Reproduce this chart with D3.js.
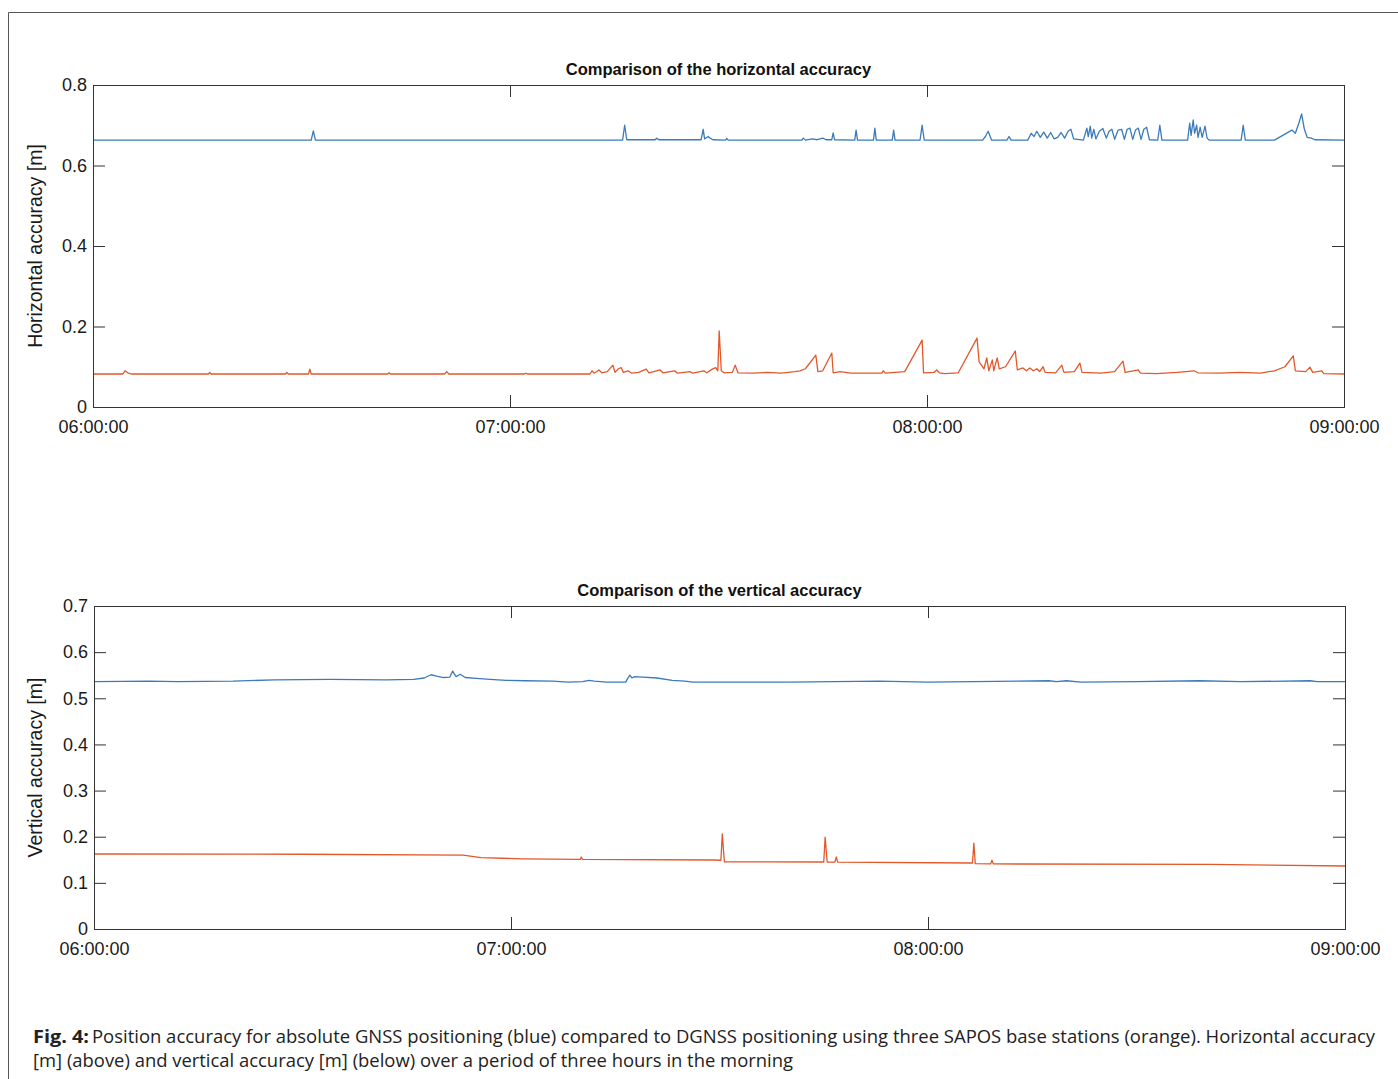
<!DOCTYPE html>
<html><head><meta charset="utf-8">
<script src="https://cdn.jsdelivr.net/npm/d3@7"></script>
<style>
html,body{margin:0;padding:0;background:#fff;}
svg{display:block;}
</style></head>
<body>
<svg id="c" width="1398" height="1079"></svg>
<script>
// ---------- data (time in minutes after 06:00, value in metres) ----------
const timeTickValues = [0, 60, 120, 180];
const timeTickLabels = ["06:00:00", "07:00:00", "08:00:00", "09:00:00"];
const hTickValues = [0, 0.2, 0.4, 0.6, 0.8];
const hTickLabels = ["0", "0.2", "0.4", "0.6", "0.8"];
const vTickValues = [0, 0.1, 0.2, 0.3, 0.4, 0.5, 0.6, 0.7];
const vTickLabels = ["0", "0.1", "0.2", "0.3", "0.4", "0.5", "0.6", "0.7"];

const titles = ["Comparison of the horizontal accuracy", "Comparison of the vertical accuracy"];
const yLabels = ["Horizontal accuracy [m]", "Vertical accuracy [m]"];

// Horizontal accuracy, absolute GNSS (blue)
const horizGnss = [
 [0,0.663],[31.4,0.663],[31.7,0.686],[32.0,0.663],[76.2,0.663],[76.5,0.700],[76.8,0.664],
 [80.9,0.664],[81.1,0.668],[81.4,0.664],[87.5,0.664],[87.8,0.690],[88.0,0.666],[88.5,0.672],[88.8,0.668],[89.2,0.664],
 [91.0,0.663],[91.2,0.667],[91.4,0.663],[102.0,0.663],[102.2,0.668],[102.5,0.663],[103.5,0.666],[104.2,0.664],
 [105.0,0.668],[105.5,0.664],[106.3,0.664],[106.5,0.681],[106.7,0.664],[109.6,0.663],[109.8,0.688],[110.0,0.663],
 [112.3,0.663],[112.5,0.693],[112.7,0.663],[115.0,0.663],[115.2,0.688],[115.4,0.663],[119.0,0.663],[119.3,0.700],[119.6,0.663],
 [128.0,0.663],[128.4,0.672],[128.8,0.685],[129.3,0.663],[131.5,0.663],[131.8,0.672],[132.1,0.663],
 [134.5,0.663],[135.0,0.680],[135.4,0.672],[135.8,0.685],[136.3,0.670],[136.8,0.683],[137.3,0.668],[137.8,0.682],
 [138.3,0.666],[138.8,0.670],[139.3,0.682],[139.8,0.668],[140.3,0.685],[140.7,0.690],[141.1,0.666],
 [142.5,0.663],[143.0,0.693],[143.2,0.672],[143.5,0.698],[143.7,0.668],[144.0,0.690],[144.3,0.666],[144.8,0.685],
 [145.3,0.692],[145.8,0.668],[146.2,0.685],[146.6,0.690],[147.0,0.665],[147.5,0.688],[148.0,0.690],[148.4,0.665],
 [148.8,0.690],[149.2,0.693],[149.6,0.665],[150.0,0.688],[150.4,0.693],[150.8,0.665],[151.2,0.690],[151.6,0.695],
 [152.0,0.664],[153.2,0.663],[153.5,0.700],[153.8,0.663],
 [157.5,0.663],[157.8,0.705],[158.0,0.675],[158.3,0.713],[158.5,0.680],[158.8,0.700],[159.0,0.670],[159.3,0.695],
 [159.6,0.670],[160.0,0.698],[160.3,0.668],[160.6,0.663],[165.2,0.663],[165.5,0.700],[165.8,0.663],
 [170.0,0.663],[172.5,0.688],[173.0,0.680],[173.5,0.705],[173.9,0.728],[174.3,0.690],[174.7,0.670],[175.3,0.668],
 [175.8,0.664],[180,0.663]
];
// Horizontal accuracy, DGNSS with SAPOS (orange)
const horizDgnss = [
 [0,0.082],[4.3,0.082],[4.6,0.090],[5.0,0.085],[5.5,0.082],[16.6,0.082],[16.8,0.086],[17.0,0.082],
 [27.7,0.082],[27.9,0.086],[28.1,0.082],[31.0,0.082],[31.2,0.094],[31.4,0.082],[42.4,0.082],[42.6,0.085],[42.8,0.082],
 [50.6,0.082],[50.9,0.088],[51.2,0.082],[62.1,0.082],[62.3,0.084],[62.5,0.082],
 [71.5,0.082],[71.8,0.090],[72.1,0.084],[72.8,0.092],[73.2,0.085],[74.0,0.088],[74.8,0.104],[75.1,0.086],[75.6,0.095],
 [76.0,0.098],[76.3,0.086],[77.0,0.090],[77.5,0.084],[78.5,0.086],[79.6,0.094],[80.0,0.085],[81.6,0.092],[82.0,0.085],
 [83.7,0.090],[84.1,0.084],[85.9,0.088],[86.3,0.084],[87.9,0.090],[88.3,0.085],[89.1,0.094],[89.6,0.098],[89.9,0.090],
 [90.1,0.189],[90.4,0.090],[90.8,0.085],[92.0,0.086],[92.4,0.104],[92.8,0.085],[95,0.084],[97,0.086],[99,0.084],
 [101,0.088],[101.7,0.090],[102.5,0.095],[104.0,0.129],[104.3,0.088],[105,0.090],[106.3,0.134],[106.5,0.085],
 [107.5,0.088],[109,0.084],[113.5,0.084],[113.7,0.090],[114,0.084],[116.8,0.088],[119.3,0.166],[119.5,0.085],
 [121.0,0.086],[121.4,0.092],[121.8,0.085],[122.5,0.083],[124.5,0.085],[127.2,0.171],[127.5,0.112],[128.2,0.095],
 [128.6,0.122],[128.9,0.090],[129.4,0.117],[129.6,0.090],[130.1,0.122],[130.4,0.095],[131.3,0.100],[132.7,0.139],
 [133.0,0.092],[133.8,0.097],[134.3,0.090],[134.8,0.097],[135.3,0.090],[135.8,0.095],[136.2,0.088],[136.7,0.100],
 [137.0,0.086],[138.5,0.085],[139.4,0.104],[139.7,0.086],[141.2,0.088],[142.0,0.109],[142.3,0.086],[145,0.084],
 [147,0.088],[148.2,0.114],[148.5,0.086],[150.4,0.092],[150.7,0.084],[153,0.083],[156,0.086],[158.4,0.090],
 [159,0.085],[162,0.084],[165,0.086],[168,0.084],[170,0.090],[171.5,0.100],[172.7,0.127],[173.0,0.090],
 [174.5,0.088],[175.1,0.099],[175.5,0.086],[176.8,0.090],[177.1,0.083],[180,0.082]
];
// Vertical accuracy, absolute GNSS (blue)
const vertGnss = [
 [0,0.536],[8,0.537],[12,0.536],[20,0.537],[26,0.540],[34,0.541],[42,0.540],[46,0.541],[47.5,0.544],[48.5,0.551],
 [49.3,0.548],[50.3,0.545],[51.2,0.546],[51.6,0.559],[52.1,0.547],[52.7,0.552],[53.4,0.545],[55,0.543],[57,0.541],
 [59.3,0.539],[62,0.538],[66,0.537],[68.2,0.535],[70.3,0.536],[71.2,0.539],[72,0.537],[73.7,0.535],[76.5,0.535],
 [76.8,0.543],[77.1,0.550],[77.4,0.544],[77.8,0.547],[79,0.546],[81,0.544],[83.2,0.539],[85,0.537],[86.2,0.535],
 [100,0.535],[113,0.537],[120,0.535],[137.4,0.538],[138.5,0.536],[139.9,0.538],[142,0.535],[150,0.536],
 [159,0.538],[165,0.536],[175,0.538],[176,0.536],[180,0.536]
];
// Vertical accuracy, DGNSS with SAPOS (orange)
const vertDgnss = [
 [0,0.1625],[30,0.162],[53.1,0.160],[55.7,0.1545],[61.7,0.152],[70.0,0.151],[70.1,0.156],[70.3,0.151],
 [89.1,0.1495],[90.2,0.149],[90.4,0.206],[90.7,0.1455],[105.0,0.1452],[105.2,0.199],[105.5,0.145],[106.6,0.145],
 [106.8,0.156],[107.0,0.145],[126.4,0.143],[126.6,0.186],[126.8,0.1415],[129.0,0.141],[129.2,0.149],[129.4,0.141],
 [160.7,0.140],[180,0.1365]
];

const captionBold = "Fig. 4:";
const captionLine1 = "Position accuracy for absolute GNSS positioning (blue) compared to DGNSS positioning using three SAPOS base stations (orange). Horizontal accuracy";
const captionLine2 = "[m] (above) and vertical accuracy [m] (below) over a period of three hours in the morning";

// ---------- drawing ----------
const svg = d3.select("#c");
const BLUE = "#3b7bbb", ORANGE = "#e3582a", AX = "#333";
const FONT = "'Liberation Sans', Arial, sans-serif";
const CAPFONT = "'Open Sans', 'Noto Sans', sans-serif";

// outer frame
svg.append("path").attr("d", "M8.5,1079 V12.5 H1398").attr("fill", "none").attr("stroke", "#555").attr("stroke-width", 1);

function panel(cfg) {
  const {left, right, top, bottom, yMax, yTicks, yTickLabels, title, ylab, series} = cfg;
  const x = d3.scaleLinear().domain([0, 180]).range([left, right]);
  const y = d3.scaleLinear().domain([0, yMax]).range([bottom, top]);
  const g = svg.append("g");

  const line = d3.line().x(d => x(d[0])).y(d => y(d[1]));
  series.forEach(s => {
    g.append("path").datum(s.data).attr("d", line)
      .attr("fill", "none").attr("stroke", s.color).attr("stroke-width", 1.3).attr("stroke-linejoin", "round");
  });

  const fmtX = v => timeTickLabels[timeTickValues.indexOf(v)];
  const fmtY = v => yTickLabels[yTicks.indexOf(v)];
  const ax = [
    g.append("g").attr("transform", `translate(0,${bottom})`).call(d3.axisBottom(x).tickValues(timeTickValues).tickFormat(fmtX).tickSize(-12).tickPadding(13)),
    g.append("g").attr("transform", `translate(0,${top})`).call(d3.axisTop(x).tickValues(timeTickValues).tickFormat("").tickSize(-12)),
    g.append("g").attr("transform", `translate(${left},0)`).call(d3.axisLeft(y).tickValues(yTicks).tickFormat(fmtY).tickSize(-12).tickPadding(6)),
    g.append("g").attr("transform", `translate(${right},0)`).call(d3.axisRight(y).tickValues(yTicks).tickFormat("").tickSize(-12))
  ];
  ax.forEach(a => {
    a.select(".domain").remove();
    a.selectAll("line").attr("stroke", AX).attr("stroke-width", 1);
    a.selectAll("text").attr("font-family", FONT).attr("font-size", 18).attr("fill", "#1a1a1a");
  });
  g.append("rect").attr("x", left + 0.5).attr("y", top + 0.5).attr("width", right - left).attr("height", bottom - top)
    .attr("fill", "none").attr("stroke", AX).attr("stroke-width", 1);

  g.append("text").attr("x", (left + right) / 2).attr("y", top - 10).attr("text-anchor", "middle")
    .attr("font-family", FONT).attr("font-weight", "bold").attr("font-size", 16.5).attr("fill", "#111").text(title);
  g.append("text").attr("transform", `translate(42,${(top + bottom) / 2}) rotate(-90)`).attr("text-anchor", "middle")
    .attr("font-family", FONT).attr("font-size", 19.5).attr("fill", "#1a1a1a").text(ylab);
}

panel({left: 93, right: 1344, top: 85, bottom: 407, yMax: 0.8, yTicks: hTickValues, yTickLabels: hTickLabels,
  title: titles[0], ylab: yLabels[0],
  series: [{data: horizGnss, color: BLUE}, {data: horizDgnss, color: ORANGE}]});
panel({left: 94, right: 1345, top: 606, bottom: 929, yMax: 0.7, yTicks: vTickValues, yTickLabels: vTickLabels,
  title: titles[1], ylab: yLabels[1],
  series: [{data: vertGnss, color: BLUE}, {data: vertDgnss, color: ORANGE}]});

// caption
svg.append("text").attr("x", 33).attr("y", 1043).attr("font-family", CAPFONT).attr("font-weight", "bold")
  .attr("font-size", 18.5).attr("fill", "#222").attr("textLength", 56).attr("lengthAdjust", "spacingAndGlyphs").text(captionBold);
svg.append("text").attr("x", 92).attr("y", 1043).attr("font-family", CAPFONT)
  .attr("font-size", 18.5).attr("fill", "#222").attr("textLength", 1283).attr("lengthAdjust", "spacingAndGlyphs").text(captionLine1);
svg.append("text").attr("x", 33).attr("y", 1067).attr("font-family", CAPFONT)
  .attr("font-size", 18.5).attr("fill", "#222").attr("textLength", 760).attr("lengthAdjust", "spacingAndGlyphs").text(captionLine2);
</script>
</body></html>
